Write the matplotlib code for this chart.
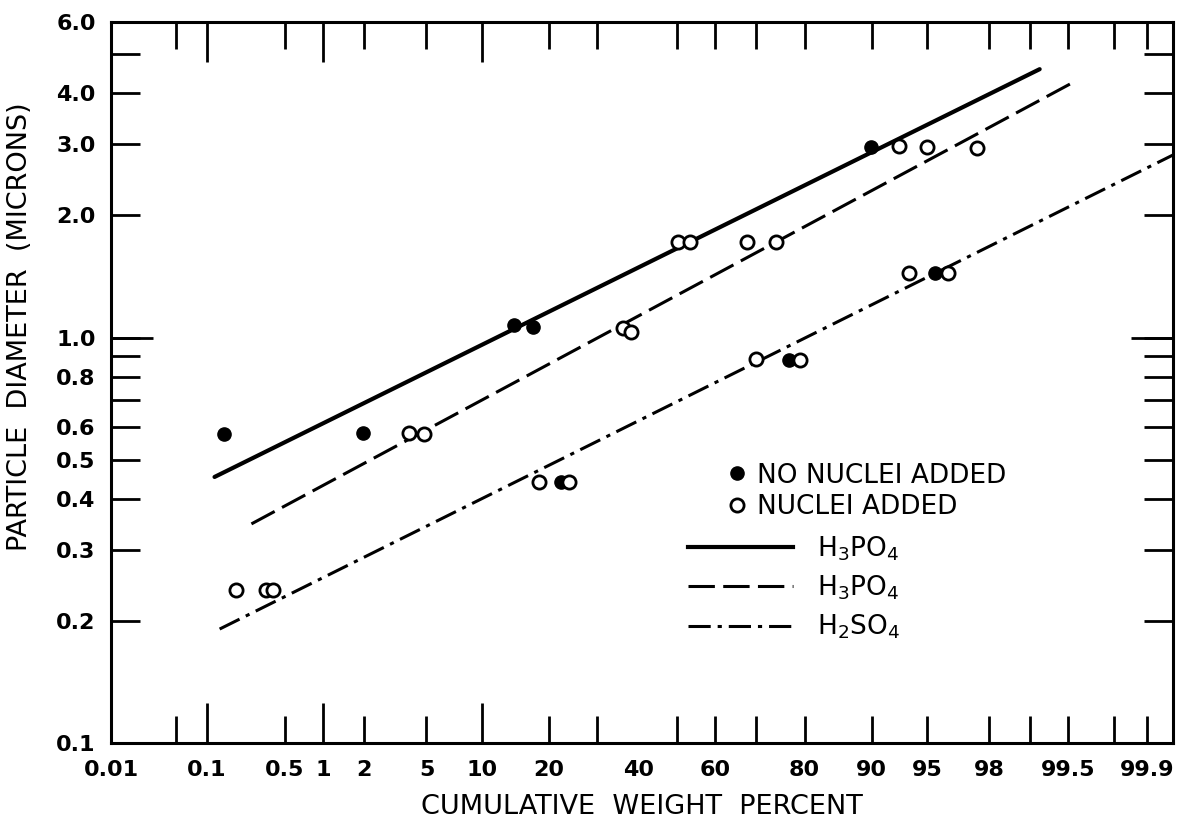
import numpy as np
import matplotlib
matplotlib.use("Agg")
import matplotlib.pyplot as plt
from matplotlib.lines import Line2D
from matplotlib.ticker import FixedLocator, NullLocator, FixedFormatter
from statistics import NormalDist

# --- data (percent, microns) ---
no_nuclei_pct = [0.145, 1.97, 14.2, 17.2, 22.3, 76.9, 89.9, 95.5]
no_nuclei_diam = [0.578, 0.581, 1.074, 1.061, 0.440, 0.880, 2.95, 1.44]

nuclei_pct = [0.19, 0.35, 0.40, 3.93, 4.85, 18.3, 23.9, 36.2, 38.1, 50.3,
              53.4, 67.9, 74.4, 70.0, 79.2, 92.8, 95.0, 97.6, 93.7, 96.3]
nuclei_diam = [0.238, 0.238, 0.238, 0.581, 0.578, 0.440, 0.440, 1.056, 1.032, 1.72,
               1.72, 1.72, 1.72, 0.885, 0.880, 2.97, 2.95, 2.93, 1.44, 1.44]

h3po4_plain_pct = [0.119, 99.15]
h3po4_plain_diam = [0.453, 4.59]
h3po4_nuclei_pct = [0.259, 99.53]
h3po4_nuclei_diam = [0.347, 4.24]
h2so4_pct = [0.133, 99.945]
h2so4_diam = [0.191, 2.82]

x_label_ticks = [0.01, 0.1, 0.5, 1, 2, 5, 10, 20, 40, 60, 80, 90, 95, 98, 99.5, 99.9]
x_label_text = ["0.01", "0.1", "0.5", "1", "2", "5", "10", "20", "40", "60",
                "80", "90", "95", "98", "99.5", "99.9"]
x_short_ticks = [0.05, 0.5, 2, 5, 20, 30, 50, 60, 70, 80, 90, 95, 98, 99, 99.5, 99.8, 99.9]
x_long_ticks = [0.1, 1, 10]

y_label_ticks = [0.1, 0.2, 0.3, 0.4, 0.5, 0.6, 0.8, 1.0, 2.0, 3.0, 4.0, 6.0]
y_label_text = ["0.1", "0.2", "0.3", "0.4", "0.5", "0.6", "0.8", "1.0", "2.0", "3.0", "4.0", "6.0"]
y_short_ticks = [0.7, 0.9, 5.0]
y_long_ticks = [1.0]

_nd = NormalDist()
_ppf = np.vectorize(_nd.inv_cdf, otypes=[float])
_cdf = np.vectorize(_nd.cdf, otypes=[float])


def probit(p):
    p = np.clip(np.asarray(p, dtype=float) / 100.0, 1e-12, 1 - 1e-12)
    return _ppf(p)


def inv_probit(z):
    return _cdf(np.asarray(z, dtype=float)) * 100.0


plt.rcParams["font.family"] = ["DejaVu Sans"]
plt.rcParams["mathtext.default"] = "regular"
plt.rcParams["lines.scale_dashes"] = False

fig = plt.figure(figsize=(11.78, 8.24), dpi=100)
ax = fig.add_axes([0.0942, 0.0983, 0.9016, 0.8750])

XLIM = (0.01, 99.945)
YLIM = (0.1, 6.0)


def setup_scales(a):
    a.set_xscale("function", functions=(probit, inv_probit))
    a.set_yscale("log")
    a.set_xlim(*XLIM)
    a.set_ylim(*YLIM)


setup_scales(ax)

lw_line = 2.2
ax.plot(h3po4_plain_pct, h3po4_plain_diam, color="black", lw=3.0,
        solid_capstyle="round", zorder=2)
ax.plot(h3po4_nuclei_pct, h3po4_nuclei_diam, color="black", lw=lw_line,
        dashes=(19, 6), zorder=2)
ax.plot(h2so4_pct, h2so4_diam, color="black", lw=lw_line,
        dashes=(16, 5, 3, 5), zorder=2)

ax.plot(no_nuclei_pct, no_nuclei_diam, "o", color="black", ms=9.5, zorder=3,
        linestyle="none")
ax.plot(nuclei_pct, nuclei_diam, "o", mfc="white", mec="black", mew=2.0, ms=9.5,
        zorder=3, linestyle="none")

# axis frame and ticks (lengths in points)
for s in ax.spines.values():
    s.set_linewidth(2.2)

ax.xaxis.remove_overlapping_locs = False
ax.yaxis.remove_overlapping_locs = False
ax.xaxis.set_major_locator(FixedLocator(x_label_ticks))
ax.xaxis.set_major_formatter(FixedFormatter(x_label_text))
ax.xaxis.set_minor_locator(FixedLocator(x_short_ticks))
ax.yaxis.set_major_locator(FixedLocator(y_label_ticks))
ax.yaxis.set_major_formatter(FixedFormatter(y_label_text))
ax.yaxis.set_minor_locator(FixedLocator(y_short_ticks))
ax.yaxis.set_minor_formatter(FixedFormatter([""] * len(y_short_ticks)))

ax.tick_params(axis="x", which="major", direction="in", length=0, pad=12,
               labelsize=16)
ax.tick_params(axis="x", which="minor", direction="in", length=19.5, width=2.0,
               top=True, bottom=True)
ax.tick_params(axis="y", which="both", direction="in", length=21, width=2.0,
               left=True, right=True, pad=11, labelsize=16)
for lab in ax.get_xticklabels() + ax.get_yticklabels():
    lab.set_fontweight("bold")

# overlay for the long ticks
ov = ax.inset_axes([0, 0, 1, 1])
setup_scales(ov)
ov.patch.set_visible(False)
for s in ov.spines.values():
    s.set_visible(False)
ov.xaxis.set_major_locator(FixedLocator(x_long_ticks))
ov.xaxis.set_minor_locator(NullLocator())
ov.yaxis.set_major_locator(FixedLocator(y_long_ticks))
ov.yaxis.set_minor_locator(NullLocator())
ov.tick_params(axis="x", direction="in", length=29, width=2.0, top=True, bottom=True,
               labelbottom=False, labeltop=False)
ov.tick_params(axis="y", direction="in", length=30, width=2.0, left=True, right=True,
               labelleft=False, labelright=False)

ax.set_xlabel("CUMULATIVE  WEIGHT  PERCENT", fontsize=19.5, labelpad=10)
ax.set_ylabel("PARTICLE  DIAMETER  (MICRONS)", fontsize=19.5)
ax.yaxis.set_label_coords(-0.0734, 0.578)

# legends
mark_handles = [
    Line2D([], [], marker="o", color="black", ms=9.5, linestyle="none"),
    Line2D([], [], marker="o", mfc="white", mec="black", mew=2.0, ms=9.5, linestyle="none"),
]
leg1 = ax.legend(mark_handles, ["NO NUCLEI ADDED", "NUCLEI ADDED"],
                 loc="upper left", bbox_to_anchor=(0.578, 0.389), frameon=False,
                 fontsize=19, handlelength=0.9, handletextpad=0.3,
                 labelspacing=0.22, borderpad=0, borderaxespad=0)
ax.add_artist(leg1)

line_handles = [
    Line2D([], [], color="black", lw=3.0),
    Line2D([], [], color="black", lw=lw_line, dashes=(19, 6)),
    Line2D([], [], color="black", lw=lw_line, dashes=(16, 5, 3, 5)),
]
ax.legend(line_handles, ["H$_3$PO$_4$", "H$_3$PO$_4$", "H$_2$SO$_4$"],
          loc="upper left", bbox_to_anchor=(0.543, 0.289), frameon=False,
          fontsize=19, handlelength=4.0, handletextpad=0.9,
          labelspacing=0.4, borderpad=0, borderaxespad=0)

fig.savefig("out.png", dpi=100)
